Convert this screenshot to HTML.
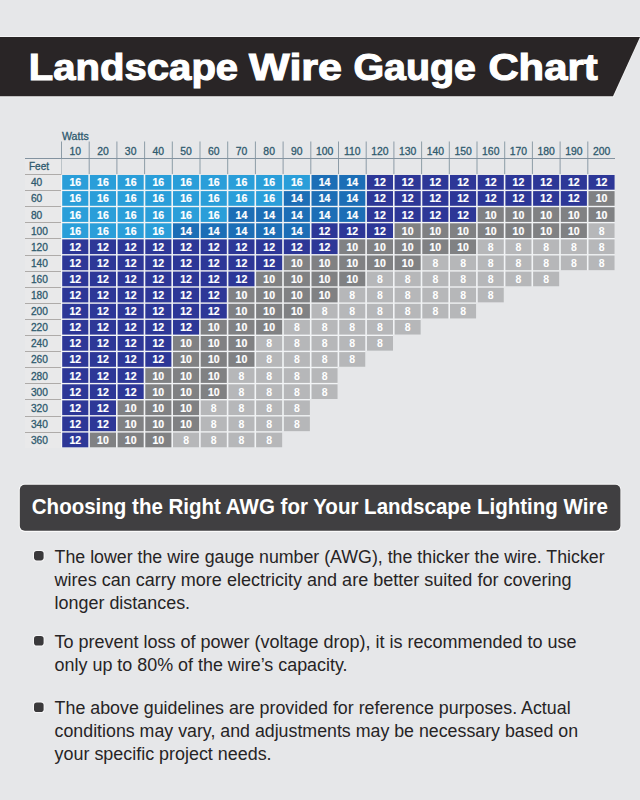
<!DOCTYPE html>
<html><head><meta charset="utf-8"><style>
html,body{margin:0;padding:0;}
body{width:640px;height:800px;overflow:hidden;position:relative;background:#e6e7e9;font-family:"Liberation Sans",sans-serif;}
</style></head><body>
<svg width="640" height="800" viewBox="0 0 640 800" style="position:absolute;left:0;top:0">
<polygon points="0,36 641,36 613.6,97.3 0,97.3" fill="#f4f4f5"/>
<polygon points="0,37 640,37 613,96.2 0,96.2" fill="#292526"/>
<text x="28.87" y="80.2" font-family="Liberation Sans" font-weight="bold" font-size="36.6" fill="#ffffff" stroke="#ffffff" stroke-width="1.1" textLength="209.27" lengthAdjust="spacingAndGlyphs">Landscape</text>
<text x="249.14" y="80.2" font-family="Liberation Sans" font-weight="bold" font-size="36.6" fill="#ffffff" stroke="#ffffff" stroke-width="1.1" textLength="92.94" lengthAdjust="spacingAndGlyphs">Wire</text>
<text x="353.49" y="80.2" font-family="Liberation Sans" font-weight="bold" font-size="36.6" fill="#ffffff" stroke="#ffffff" stroke-width="1.1" textLength="122.48" lengthAdjust="spacingAndGlyphs">Gauge</text>
<text x="488.43" y="80.2" font-family="Liberation Sans" font-weight="bold" font-size="36.6" fill="#ffffff" stroke="#ffffff" stroke-width="1.1" textLength="109.16" lengthAdjust="spacingAndGlyphs">Chart</text>
<text x="62" y="139.6" font-family="Liberation Sans" font-size="10.6" fill="#2f5a6e" stroke="#2f5a6e" stroke-width="0.3">Watts</text>
<rect x="61" y="141.5" width="1" height="32.5" fill="#8393a0" opacity="0.9"/>
<text x="75.25" y="154.6" text-anchor="middle" font-family="Liberation Sans" font-size="10.4" fill="#2f5a6e" stroke="#2f5a6e" stroke-width="0.3">10</text>
<rect x="88.7" y="141.5" width="1" height="32.5" fill="#8393a0" opacity="0.9"/>
<text x="102.95" y="154.6" text-anchor="middle" font-family="Liberation Sans" font-size="10.4" fill="#2f5a6e" stroke="#2f5a6e" stroke-width="0.3">20</text>
<rect x="116.4" y="141.5" width="1" height="32.5" fill="#8393a0" opacity="0.9"/>
<text x="130.65" y="154.6" text-anchor="middle" font-family="Liberation Sans" font-size="10.4" fill="#2f5a6e" stroke="#2f5a6e" stroke-width="0.3">30</text>
<rect x="144.1" y="141.5" width="1" height="32.5" fill="#8393a0" opacity="0.9"/>
<text x="158.35" y="154.6" text-anchor="middle" font-family="Liberation Sans" font-size="10.4" fill="#2f5a6e" stroke="#2f5a6e" stroke-width="0.3">40</text>
<rect x="171.8" y="141.5" width="1" height="32.5" fill="#8393a0" opacity="0.9"/>
<text x="186.05" y="154.6" text-anchor="middle" font-family="Liberation Sans" font-size="10.4" fill="#2f5a6e" stroke="#2f5a6e" stroke-width="0.3">50</text>
<rect x="199.5" y="141.5" width="1" height="32.5" fill="#8393a0" opacity="0.9"/>
<text x="213.75" y="154.6" text-anchor="middle" font-family="Liberation Sans" font-size="10.4" fill="#2f5a6e" stroke="#2f5a6e" stroke-width="0.3">60</text>
<rect x="227.2" y="141.5" width="1" height="32.5" fill="#8393a0" opacity="0.9"/>
<text x="241.45" y="154.6" text-anchor="middle" font-family="Liberation Sans" font-size="10.4" fill="#2f5a6e" stroke="#2f5a6e" stroke-width="0.3">70</text>
<rect x="254.9" y="141.5" width="1" height="32.5" fill="#8393a0" opacity="0.9"/>
<text x="269.15" y="154.6" text-anchor="middle" font-family="Liberation Sans" font-size="10.4" fill="#2f5a6e" stroke="#2f5a6e" stroke-width="0.3">80</text>
<rect x="282.6" y="141.5" width="1" height="32.5" fill="#8393a0" opacity="0.9"/>
<text x="296.85" y="154.6" text-anchor="middle" font-family="Liberation Sans" font-size="10.4" fill="#2f5a6e" stroke="#2f5a6e" stroke-width="0.3">90</text>
<rect x="310.3" y="141.5" width="1" height="32.5" fill="#8393a0" opacity="0.9"/>
<text x="324.55" y="154.6" text-anchor="middle" font-family="Liberation Sans" font-size="10.4" fill="#2f5a6e" stroke="#2f5a6e" stroke-width="0.3">100</text>
<rect x="338" y="141.5" width="1" height="32.5" fill="#8393a0" opacity="0.9"/>
<text x="352.25" y="154.6" text-anchor="middle" font-family="Liberation Sans" font-size="10.4" fill="#2f5a6e" stroke="#2f5a6e" stroke-width="0.3">110</text>
<rect x="365.7" y="141.5" width="1" height="32.5" fill="#8393a0" opacity="0.9"/>
<text x="379.95" y="154.6" text-anchor="middle" font-family="Liberation Sans" font-size="10.4" fill="#2f5a6e" stroke="#2f5a6e" stroke-width="0.3">120</text>
<rect x="393.4" y="141.5" width="1" height="32.5" fill="#8393a0" opacity="0.9"/>
<text x="407.65" y="154.6" text-anchor="middle" font-family="Liberation Sans" font-size="10.4" fill="#2f5a6e" stroke="#2f5a6e" stroke-width="0.3">130</text>
<rect x="421.1" y="141.5" width="1" height="32.5" fill="#8393a0" opacity="0.9"/>
<text x="435.35" y="154.6" text-anchor="middle" font-family="Liberation Sans" font-size="10.4" fill="#2f5a6e" stroke="#2f5a6e" stroke-width="0.3">140</text>
<rect x="448.8" y="141.5" width="1" height="32.5" fill="#8393a0" opacity="0.9"/>
<text x="463.05" y="154.6" text-anchor="middle" font-family="Liberation Sans" font-size="10.4" fill="#2f5a6e" stroke="#2f5a6e" stroke-width="0.3">150</text>
<rect x="476.5" y="141.5" width="1" height="32.5" fill="#8393a0" opacity="0.9"/>
<text x="490.75" y="154.6" text-anchor="middle" font-family="Liberation Sans" font-size="10.4" fill="#2f5a6e" stroke="#2f5a6e" stroke-width="0.3">160</text>
<rect x="504.2" y="141.5" width="1" height="32.5" fill="#8393a0" opacity="0.9"/>
<text x="518.45" y="154.6" text-anchor="middle" font-family="Liberation Sans" font-size="10.4" fill="#2f5a6e" stroke="#2f5a6e" stroke-width="0.3">170</text>
<rect x="531.9" y="141.5" width="1" height="32.5" fill="#8393a0" opacity="0.9"/>
<text x="546.15" y="154.6" text-anchor="middle" font-family="Liberation Sans" font-size="10.4" fill="#2f5a6e" stroke="#2f5a6e" stroke-width="0.3">180</text>
<rect x="559.6" y="141.5" width="1" height="32.5" fill="#8393a0" opacity="0.9"/>
<text x="573.85" y="154.6" text-anchor="middle" font-family="Liberation Sans" font-size="10.4" fill="#2f5a6e" stroke="#2f5a6e" stroke-width="0.3">190</text>
<rect x="587.3" y="141.5" width="1" height="32.5" fill="#8393a0" opacity="0.9"/>
<text x="601.55" y="154.6" text-anchor="middle" font-family="Liberation Sans" font-size="10.4" fill="#2f5a6e" stroke="#2f5a6e" stroke-width="0.3">200</text>
<rect x="25" y="158" width="590" height="1" fill="#8393a0"/>
<rect x="25" y="159" width="36.5" height="289" fill="#e9e9ea"/>
<rect x="61" y="175" width="1.2" height="272.5" fill="#f6f7f8"/>
<text x="29" y="169.9" font-family="Liberation Sans" font-size="10" fill="#2f5a6e" stroke="#2f5a6e" stroke-width="0.3">Feet</text>
<rect x="25" y="174" width="36.5" height="1" fill="#aeaba9"/>
<text x="30.9" y="186.3" font-family="Liberation Sans" font-size="10.2" fill="#2f5a6e" stroke="#2f5a6e" stroke-width="0.3">40</text>
<rect x="62.2" y="175" width="552.4" height="14.7" fill="#f2f4f6"/>
<rect x="62.2" y="189.7" width="552.4" height="1.4" fill="#f2f4f6"/>
<rect x="62.2" y="175" width="26.1" height="14.7" fill="#2a9ed9"/>
<text x="75.25" y="186.3" text-anchor="middle" font-family="Liberation Sans" font-weight="bold" font-size="10.5" fill="#ffffff" stroke="#ffffff" stroke-width="0.2">16</text>
<rect x="89.9" y="175" width="26.1" height="14.7" fill="#2a9ed9"/>
<text x="102.95" y="186.3" text-anchor="middle" font-family="Liberation Sans" font-weight="bold" font-size="10.5" fill="#ffffff" stroke="#ffffff" stroke-width="0.2">16</text>
<rect x="117.6" y="175" width="26.1" height="14.7" fill="#2a9ed9"/>
<text x="130.65" y="186.3" text-anchor="middle" font-family="Liberation Sans" font-weight="bold" font-size="10.5" fill="#ffffff" stroke="#ffffff" stroke-width="0.2">16</text>
<rect x="145.3" y="175" width="26.1" height="14.7" fill="#2a9ed9"/>
<text x="158.35" y="186.3" text-anchor="middle" font-family="Liberation Sans" font-weight="bold" font-size="10.5" fill="#ffffff" stroke="#ffffff" stroke-width="0.2">16</text>
<rect x="173" y="175" width="26.1" height="14.7" fill="#2a9ed9"/>
<text x="186.05" y="186.3" text-anchor="middle" font-family="Liberation Sans" font-weight="bold" font-size="10.5" fill="#ffffff" stroke="#ffffff" stroke-width="0.2">16</text>
<rect x="200.7" y="175" width="26.1" height="14.7" fill="#2a9ed9"/>
<text x="213.75" y="186.3" text-anchor="middle" font-family="Liberation Sans" font-weight="bold" font-size="10.5" fill="#ffffff" stroke="#ffffff" stroke-width="0.2">16</text>
<rect x="228.4" y="175" width="26.1" height="14.7" fill="#2a9ed9"/>
<text x="241.45" y="186.3" text-anchor="middle" font-family="Liberation Sans" font-weight="bold" font-size="10.5" fill="#ffffff" stroke="#ffffff" stroke-width="0.2">16</text>
<rect x="256.1" y="175" width="26.1" height="14.7" fill="#2a9ed9"/>
<text x="269.15" y="186.3" text-anchor="middle" font-family="Liberation Sans" font-weight="bold" font-size="10.5" fill="#ffffff" stroke="#ffffff" stroke-width="0.2">16</text>
<rect x="283.8" y="175" width="26.1" height="14.7" fill="#2a9ed9"/>
<text x="296.85" y="186.3" text-anchor="middle" font-family="Liberation Sans" font-weight="bold" font-size="10.5" fill="#ffffff" stroke="#ffffff" stroke-width="0.2">16</text>
<rect x="311.5" y="175" width="26.1" height="14.7" fill="#1c6eb6"/>
<text x="324.55" y="186.3" text-anchor="middle" font-family="Liberation Sans" font-weight="bold" font-size="10.5" fill="#ffffff" stroke="#ffffff" stroke-width="0.2">14</text>
<rect x="339.2" y="175" width="26.1" height="14.7" fill="#1c6eb6"/>
<text x="352.25" y="186.3" text-anchor="middle" font-family="Liberation Sans" font-weight="bold" font-size="10.5" fill="#ffffff" stroke="#ffffff" stroke-width="0.2">14</text>
<rect x="366.9" y="175" width="26.1" height="14.7" fill="#2d3797"/>
<text x="379.95" y="186.3" text-anchor="middle" font-family="Liberation Sans" font-weight="bold" font-size="10.5" fill="#ffffff" stroke="#ffffff" stroke-width="0.2">12</text>
<rect x="394.6" y="175" width="26.1" height="14.7" fill="#2d3797"/>
<text x="407.65" y="186.3" text-anchor="middle" font-family="Liberation Sans" font-weight="bold" font-size="10.5" fill="#ffffff" stroke="#ffffff" stroke-width="0.2">12</text>
<rect x="422.3" y="175" width="26.1" height="14.7" fill="#2d3797"/>
<text x="435.35" y="186.3" text-anchor="middle" font-family="Liberation Sans" font-weight="bold" font-size="10.5" fill="#ffffff" stroke="#ffffff" stroke-width="0.2">12</text>
<rect x="450" y="175" width="26.1" height="14.7" fill="#2d3797"/>
<text x="463.05" y="186.3" text-anchor="middle" font-family="Liberation Sans" font-weight="bold" font-size="10.5" fill="#ffffff" stroke="#ffffff" stroke-width="0.2">12</text>
<rect x="477.7" y="175" width="26.1" height="14.7" fill="#2d3797"/>
<text x="490.75" y="186.3" text-anchor="middle" font-family="Liberation Sans" font-weight="bold" font-size="10.5" fill="#ffffff" stroke="#ffffff" stroke-width="0.2">12</text>
<rect x="505.4" y="175" width="26.1" height="14.7" fill="#2d3797"/>
<text x="518.45" y="186.3" text-anchor="middle" font-family="Liberation Sans" font-weight="bold" font-size="10.5" fill="#ffffff" stroke="#ffffff" stroke-width="0.2">12</text>
<rect x="533.1" y="175" width="26.1" height="14.7" fill="#2d3797"/>
<text x="546.15" y="186.3" text-anchor="middle" font-family="Liberation Sans" font-weight="bold" font-size="10.5" fill="#ffffff" stroke="#ffffff" stroke-width="0.2">12</text>
<rect x="560.8" y="175" width="26.1" height="14.7" fill="#2d3797"/>
<text x="573.85" y="186.3" text-anchor="middle" font-family="Liberation Sans" font-weight="bold" font-size="10.5" fill="#ffffff" stroke="#ffffff" stroke-width="0.2">12</text>
<rect x="588.5" y="175" width="26.1" height="14.7" fill="#2d3797"/>
<text x="601.55" y="186.3" text-anchor="middle" font-family="Liberation Sans" font-weight="bold" font-size="10.5" fill="#ffffff" stroke="#ffffff" stroke-width="0.2">12</text>
<rect x="25" y="190" width="36" height="1" fill="#aeaba9"/>
<text x="30.9" y="202.4" font-family="Liberation Sans" font-size="10.2" fill="#2f5a6e" stroke="#2f5a6e" stroke-width="0.3">60</text>
<rect x="62.2" y="191.1" width="552.4" height="14.7" fill="#f2f4f6"/>
<rect x="62.2" y="205.8" width="552.4" height="1.4" fill="#f2f4f6"/>
<rect x="62.2" y="191.1" width="26.1" height="14.7" fill="#2a9ed9"/>
<text x="75.25" y="202.4" text-anchor="middle" font-family="Liberation Sans" font-weight="bold" font-size="10.5" fill="#ffffff" stroke="#ffffff" stroke-width="0.2">16</text>
<rect x="89.9" y="191.1" width="26.1" height="14.7" fill="#2a9ed9"/>
<text x="102.95" y="202.4" text-anchor="middle" font-family="Liberation Sans" font-weight="bold" font-size="10.5" fill="#ffffff" stroke="#ffffff" stroke-width="0.2">16</text>
<rect x="117.6" y="191.1" width="26.1" height="14.7" fill="#2a9ed9"/>
<text x="130.65" y="202.4" text-anchor="middle" font-family="Liberation Sans" font-weight="bold" font-size="10.5" fill="#ffffff" stroke="#ffffff" stroke-width="0.2">16</text>
<rect x="145.3" y="191.1" width="26.1" height="14.7" fill="#2a9ed9"/>
<text x="158.35" y="202.4" text-anchor="middle" font-family="Liberation Sans" font-weight="bold" font-size="10.5" fill="#ffffff" stroke="#ffffff" stroke-width="0.2">16</text>
<rect x="173" y="191.1" width="26.1" height="14.7" fill="#2a9ed9"/>
<text x="186.05" y="202.4" text-anchor="middle" font-family="Liberation Sans" font-weight="bold" font-size="10.5" fill="#ffffff" stroke="#ffffff" stroke-width="0.2">16</text>
<rect x="200.7" y="191.1" width="26.1" height="14.7" fill="#2a9ed9"/>
<text x="213.75" y="202.4" text-anchor="middle" font-family="Liberation Sans" font-weight="bold" font-size="10.5" fill="#ffffff" stroke="#ffffff" stroke-width="0.2">16</text>
<rect x="228.4" y="191.1" width="26.1" height="14.7" fill="#2a9ed9"/>
<text x="241.45" y="202.4" text-anchor="middle" font-family="Liberation Sans" font-weight="bold" font-size="10.5" fill="#ffffff" stroke="#ffffff" stroke-width="0.2">16</text>
<rect x="256.1" y="191.1" width="26.1" height="14.7" fill="#2a9ed9"/>
<text x="269.15" y="202.4" text-anchor="middle" font-family="Liberation Sans" font-weight="bold" font-size="10.5" fill="#ffffff" stroke="#ffffff" stroke-width="0.2">16</text>
<rect x="283.8" y="191.1" width="26.1" height="14.7" fill="#1c6eb6"/>
<text x="296.85" y="202.4" text-anchor="middle" font-family="Liberation Sans" font-weight="bold" font-size="10.5" fill="#ffffff" stroke="#ffffff" stroke-width="0.2">14</text>
<rect x="311.5" y="191.1" width="26.1" height="14.7" fill="#1c6eb6"/>
<text x="324.55" y="202.4" text-anchor="middle" font-family="Liberation Sans" font-weight="bold" font-size="10.5" fill="#ffffff" stroke="#ffffff" stroke-width="0.2">14</text>
<rect x="339.2" y="191.1" width="26.1" height="14.7" fill="#1c6eb6"/>
<text x="352.25" y="202.4" text-anchor="middle" font-family="Liberation Sans" font-weight="bold" font-size="10.5" fill="#ffffff" stroke="#ffffff" stroke-width="0.2">14</text>
<rect x="366.9" y="191.1" width="26.1" height="14.7" fill="#2d3797"/>
<text x="379.95" y="202.4" text-anchor="middle" font-family="Liberation Sans" font-weight="bold" font-size="10.5" fill="#ffffff" stroke="#ffffff" stroke-width="0.2">12</text>
<rect x="394.6" y="191.1" width="26.1" height="14.7" fill="#2d3797"/>
<text x="407.65" y="202.4" text-anchor="middle" font-family="Liberation Sans" font-weight="bold" font-size="10.5" fill="#ffffff" stroke="#ffffff" stroke-width="0.2">12</text>
<rect x="422.3" y="191.1" width="26.1" height="14.7" fill="#2d3797"/>
<text x="435.35" y="202.4" text-anchor="middle" font-family="Liberation Sans" font-weight="bold" font-size="10.5" fill="#ffffff" stroke="#ffffff" stroke-width="0.2">12</text>
<rect x="450" y="191.1" width="26.1" height="14.7" fill="#2d3797"/>
<text x="463.05" y="202.4" text-anchor="middle" font-family="Liberation Sans" font-weight="bold" font-size="10.5" fill="#ffffff" stroke="#ffffff" stroke-width="0.2">12</text>
<rect x="477.7" y="191.1" width="26.1" height="14.7" fill="#2d3797"/>
<text x="490.75" y="202.4" text-anchor="middle" font-family="Liberation Sans" font-weight="bold" font-size="10.5" fill="#ffffff" stroke="#ffffff" stroke-width="0.2">12</text>
<rect x="505.4" y="191.1" width="26.1" height="14.7" fill="#2d3797"/>
<text x="518.45" y="202.4" text-anchor="middle" font-family="Liberation Sans" font-weight="bold" font-size="10.5" fill="#ffffff" stroke="#ffffff" stroke-width="0.2">12</text>
<rect x="533.1" y="191.1" width="26.1" height="14.7" fill="#2d3797"/>
<text x="546.15" y="202.4" text-anchor="middle" font-family="Liberation Sans" font-weight="bold" font-size="10.5" fill="#ffffff" stroke="#ffffff" stroke-width="0.2">12</text>
<rect x="560.8" y="191.1" width="26.1" height="14.7" fill="#2d3797"/>
<text x="573.85" y="202.4" text-anchor="middle" font-family="Liberation Sans" font-weight="bold" font-size="10.5" fill="#ffffff" stroke="#ffffff" stroke-width="0.2">12</text>
<rect x="588.5" y="191.1" width="26.1" height="14.7" fill="#808183"/>
<text x="601.55" y="202.4" text-anchor="middle" font-family="Liberation Sans" font-weight="bold" font-size="10.5" fill="#ffffff" stroke="#ffffff" stroke-width="0.2">10</text>
<rect x="25" y="206" width="36" height="1" fill="#aeaba9"/>
<text x="30.9" y="218.5" font-family="Liberation Sans" font-size="10.2" fill="#2f5a6e" stroke="#2f5a6e" stroke-width="0.3">80</text>
<rect x="62.2" y="207.2" width="552.4" height="14.7" fill="#f2f4f6"/>
<rect x="62.2" y="221.9" width="552.4" height="1.4" fill="#f2f4f6"/>
<rect x="62.2" y="207.2" width="26.1" height="14.7" fill="#2a9ed9"/>
<text x="75.25" y="218.5" text-anchor="middle" font-family="Liberation Sans" font-weight="bold" font-size="10.5" fill="#ffffff" stroke="#ffffff" stroke-width="0.2">16</text>
<rect x="89.9" y="207.2" width="26.1" height="14.7" fill="#2a9ed9"/>
<text x="102.95" y="218.5" text-anchor="middle" font-family="Liberation Sans" font-weight="bold" font-size="10.5" fill="#ffffff" stroke="#ffffff" stroke-width="0.2">16</text>
<rect x="117.6" y="207.2" width="26.1" height="14.7" fill="#2a9ed9"/>
<text x="130.65" y="218.5" text-anchor="middle" font-family="Liberation Sans" font-weight="bold" font-size="10.5" fill="#ffffff" stroke="#ffffff" stroke-width="0.2">16</text>
<rect x="145.3" y="207.2" width="26.1" height="14.7" fill="#2a9ed9"/>
<text x="158.35" y="218.5" text-anchor="middle" font-family="Liberation Sans" font-weight="bold" font-size="10.5" fill="#ffffff" stroke="#ffffff" stroke-width="0.2">16</text>
<rect x="173" y="207.2" width="26.1" height="14.7" fill="#2a9ed9"/>
<text x="186.05" y="218.5" text-anchor="middle" font-family="Liberation Sans" font-weight="bold" font-size="10.5" fill="#ffffff" stroke="#ffffff" stroke-width="0.2">16</text>
<rect x="200.7" y="207.2" width="26.1" height="14.7" fill="#2a9ed9"/>
<text x="213.75" y="218.5" text-anchor="middle" font-family="Liberation Sans" font-weight="bold" font-size="10.5" fill="#ffffff" stroke="#ffffff" stroke-width="0.2">16</text>
<rect x="228.4" y="207.2" width="26.1" height="14.7" fill="#1c6eb6"/>
<text x="241.45" y="218.5" text-anchor="middle" font-family="Liberation Sans" font-weight="bold" font-size="10.5" fill="#ffffff" stroke="#ffffff" stroke-width="0.2">14</text>
<rect x="256.1" y="207.2" width="26.1" height="14.7" fill="#1c6eb6"/>
<text x="269.15" y="218.5" text-anchor="middle" font-family="Liberation Sans" font-weight="bold" font-size="10.5" fill="#ffffff" stroke="#ffffff" stroke-width="0.2">14</text>
<rect x="283.8" y="207.2" width="26.1" height="14.7" fill="#1c6eb6"/>
<text x="296.85" y="218.5" text-anchor="middle" font-family="Liberation Sans" font-weight="bold" font-size="10.5" fill="#ffffff" stroke="#ffffff" stroke-width="0.2">14</text>
<rect x="311.5" y="207.2" width="26.1" height="14.7" fill="#1c6eb6"/>
<text x="324.55" y="218.5" text-anchor="middle" font-family="Liberation Sans" font-weight="bold" font-size="10.5" fill="#ffffff" stroke="#ffffff" stroke-width="0.2">14</text>
<rect x="339.2" y="207.2" width="26.1" height="14.7" fill="#1c6eb6"/>
<text x="352.25" y="218.5" text-anchor="middle" font-family="Liberation Sans" font-weight="bold" font-size="10.5" fill="#ffffff" stroke="#ffffff" stroke-width="0.2">14</text>
<rect x="366.9" y="207.2" width="26.1" height="14.7" fill="#2d3797"/>
<text x="379.95" y="218.5" text-anchor="middle" font-family="Liberation Sans" font-weight="bold" font-size="10.5" fill="#ffffff" stroke="#ffffff" stroke-width="0.2">12</text>
<rect x="394.6" y="207.2" width="26.1" height="14.7" fill="#2d3797"/>
<text x="407.65" y="218.5" text-anchor="middle" font-family="Liberation Sans" font-weight="bold" font-size="10.5" fill="#ffffff" stroke="#ffffff" stroke-width="0.2">12</text>
<rect x="422.3" y="207.2" width="26.1" height="14.7" fill="#2d3797"/>
<text x="435.35" y="218.5" text-anchor="middle" font-family="Liberation Sans" font-weight="bold" font-size="10.5" fill="#ffffff" stroke="#ffffff" stroke-width="0.2">12</text>
<rect x="450" y="207.2" width="26.1" height="14.7" fill="#2d3797"/>
<text x="463.05" y="218.5" text-anchor="middle" font-family="Liberation Sans" font-weight="bold" font-size="10.5" fill="#ffffff" stroke="#ffffff" stroke-width="0.2">12</text>
<rect x="477.7" y="207.2" width="26.1" height="14.7" fill="#808183"/>
<text x="490.75" y="218.5" text-anchor="middle" font-family="Liberation Sans" font-weight="bold" font-size="10.5" fill="#ffffff" stroke="#ffffff" stroke-width="0.2">10</text>
<rect x="505.4" y="207.2" width="26.1" height="14.7" fill="#808183"/>
<text x="518.45" y="218.5" text-anchor="middle" font-family="Liberation Sans" font-weight="bold" font-size="10.5" fill="#ffffff" stroke="#ffffff" stroke-width="0.2">10</text>
<rect x="533.1" y="207.2" width="26.1" height="14.7" fill="#808183"/>
<text x="546.15" y="218.5" text-anchor="middle" font-family="Liberation Sans" font-weight="bold" font-size="10.5" fill="#ffffff" stroke="#ffffff" stroke-width="0.2">10</text>
<rect x="560.8" y="207.2" width="26.1" height="14.7" fill="#808183"/>
<text x="573.85" y="218.5" text-anchor="middle" font-family="Liberation Sans" font-weight="bold" font-size="10.5" fill="#ffffff" stroke="#ffffff" stroke-width="0.2">10</text>
<rect x="588.5" y="207.2" width="26.1" height="14.7" fill="#808183"/>
<text x="601.55" y="218.5" text-anchor="middle" font-family="Liberation Sans" font-weight="bold" font-size="10.5" fill="#ffffff" stroke="#ffffff" stroke-width="0.2">10</text>
<rect x="25" y="222" width="36" height="1" fill="#aeaba9"/>
<text x="30.9" y="234.6" font-family="Liberation Sans" font-size="10.2" fill="#2f5a6e" stroke="#2f5a6e" stroke-width="0.3">100</text>
<rect x="62.2" y="223.3" width="552.4" height="14.7" fill="#f2f4f6"/>
<rect x="62.2" y="238" width="552.4" height="1.4" fill="#f2f4f6"/>
<rect x="62.2" y="223.3" width="26.1" height="14.7" fill="#2a9ed9"/>
<text x="75.25" y="234.6" text-anchor="middle" font-family="Liberation Sans" font-weight="bold" font-size="10.5" fill="#ffffff" stroke="#ffffff" stroke-width="0.2">16</text>
<rect x="89.9" y="223.3" width="26.1" height="14.7" fill="#2a9ed9"/>
<text x="102.95" y="234.6" text-anchor="middle" font-family="Liberation Sans" font-weight="bold" font-size="10.5" fill="#ffffff" stroke="#ffffff" stroke-width="0.2">16</text>
<rect x="117.6" y="223.3" width="26.1" height="14.7" fill="#2a9ed9"/>
<text x="130.65" y="234.6" text-anchor="middle" font-family="Liberation Sans" font-weight="bold" font-size="10.5" fill="#ffffff" stroke="#ffffff" stroke-width="0.2">16</text>
<rect x="145.3" y="223.3" width="26.1" height="14.7" fill="#2a9ed9"/>
<text x="158.35" y="234.6" text-anchor="middle" font-family="Liberation Sans" font-weight="bold" font-size="10.5" fill="#ffffff" stroke="#ffffff" stroke-width="0.2">16</text>
<rect x="173" y="223.3" width="26.1" height="14.7" fill="#1c6eb6"/>
<text x="186.05" y="234.6" text-anchor="middle" font-family="Liberation Sans" font-weight="bold" font-size="10.5" fill="#ffffff" stroke="#ffffff" stroke-width="0.2">14</text>
<rect x="200.7" y="223.3" width="26.1" height="14.7" fill="#1c6eb6"/>
<text x="213.75" y="234.6" text-anchor="middle" font-family="Liberation Sans" font-weight="bold" font-size="10.5" fill="#ffffff" stroke="#ffffff" stroke-width="0.2">14</text>
<rect x="228.4" y="223.3" width="26.1" height="14.7" fill="#1c6eb6"/>
<text x="241.45" y="234.6" text-anchor="middle" font-family="Liberation Sans" font-weight="bold" font-size="10.5" fill="#ffffff" stroke="#ffffff" stroke-width="0.2">14</text>
<rect x="256.1" y="223.3" width="26.1" height="14.7" fill="#1c6eb6"/>
<text x="269.15" y="234.6" text-anchor="middle" font-family="Liberation Sans" font-weight="bold" font-size="10.5" fill="#ffffff" stroke="#ffffff" stroke-width="0.2">14</text>
<rect x="283.8" y="223.3" width="26.1" height="14.7" fill="#1c6eb6"/>
<text x="296.85" y="234.6" text-anchor="middle" font-family="Liberation Sans" font-weight="bold" font-size="10.5" fill="#ffffff" stroke="#ffffff" stroke-width="0.2">14</text>
<rect x="311.5" y="223.3" width="26.1" height="14.7" fill="#2d3797"/>
<text x="324.55" y="234.6" text-anchor="middle" font-family="Liberation Sans" font-weight="bold" font-size="10.5" fill="#ffffff" stroke="#ffffff" stroke-width="0.2">12</text>
<rect x="339.2" y="223.3" width="26.1" height="14.7" fill="#2d3797"/>
<text x="352.25" y="234.6" text-anchor="middle" font-family="Liberation Sans" font-weight="bold" font-size="10.5" fill="#ffffff" stroke="#ffffff" stroke-width="0.2">12</text>
<rect x="366.9" y="223.3" width="26.1" height="14.7" fill="#2d3797"/>
<text x="379.95" y="234.6" text-anchor="middle" font-family="Liberation Sans" font-weight="bold" font-size="10.5" fill="#ffffff" stroke="#ffffff" stroke-width="0.2">12</text>
<rect x="394.6" y="223.3" width="26.1" height="14.7" fill="#808183"/>
<text x="407.65" y="234.6" text-anchor="middle" font-family="Liberation Sans" font-weight="bold" font-size="10.5" fill="#ffffff" stroke="#ffffff" stroke-width="0.2">10</text>
<rect x="422.3" y="223.3" width="26.1" height="14.7" fill="#808183"/>
<text x="435.35" y="234.6" text-anchor="middle" font-family="Liberation Sans" font-weight="bold" font-size="10.5" fill="#ffffff" stroke="#ffffff" stroke-width="0.2">10</text>
<rect x="450" y="223.3" width="26.1" height="14.7" fill="#808183"/>
<text x="463.05" y="234.6" text-anchor="middle" font-family="Liberation Sans" font-weight="bold" font-size="10.5" fill="#ffffff" stroke="#ffffff" stroke-width="0.2">10</text>
<rect x="477.7" y="223.3" width="26.1" height="14.7" fill="#808183"/>
<text x="490.75" y="234.6" text-anchor="middle" font-family="Liberation Sans" font-weight="bold" font-size="10.5" fill="#ffffff" stroke="#ffffff" stroke-width="0.2">10</text>
<rect x="505.4" y="223.3" width="26.1" height="14.7" fill="#808183"/>
<text x="518.45" y="234.6" text-anchor="middle" font-family="Liberation Sans" font-weight="bold" font-size="10.5" fill="#ffffff" stroke="#ffffff" stroke-width="0.2">10</text>
<rect x="533.1" y="223.3" width="26.1" height="14.7" fill="#808183"/>
<text x="546.15" y="234.6" text-anchor="middle" font-family="Liberation Sans" font-weight="bold" font-size="10.5" fill="#ffffff" stroke="#ffffff" stroke-width="0.2">10</text>
<rect x="560.8" y="223.3" width="26.1" height="14.7" fill="#808183"/>
<text x="573.85" y="234.6" text-anchor="middle" font-family="Liberation Sans" font-weight="bold" font-size="10.5" fill="#ffffff" stroke="#ffffff" stroke-width="0.2">10</text>
<rect x="588.5" y="223.3" width="26.1" height="14.7" fill="#b6b7b9"/>
<text x="601.55" y="234.6" text-anchor="middle" font-family="Liberation Sans" font-weight="bold" font-size="10.5" fill="#ffffff">8</text>
<rect x="25" y="238" width="36" height="1" fill="#aeaba9"/>
<text x="30.9" y="250.7" font-family="Liberation Sans" font-size="10.2" fill="#2f5a6e" stroke="#2f5a6e" stroke-width="0.3">120</text>
<rect x="62.2" y="239.4" width="552.4" height="14.7" fill="#f2f4f6"/>
<rect x="62.2" y="254.1" width="552.4" height="1.4" fill="#f2f4f6"/>
<rect x="62.2" y="239.4" width="26.1" height="14.7" fill="#2d3797"/>
<text x="75.25" y="250.7" text-anchor="middle" font-family="Liberation Sans" font-weight="bold" font-size="10.5" fill="#ffffff" stroke="#ffffff" stroke-width="0.2">12</text>
<rect x="89.9" y="239.4" width="26.1" height="14.7" fill="#2d3797"/>
<text x="102.95" y="250.7" text-anchor="middle" font-family="Liberation Sans" font-weight="bold" font-size="10.5" fill="#ffffff" stroke="#ffffff" stroke-width="0.2">12</text>
<rect x="117.6" y="239.4" width="26.1" height="14.7" fill="#2d3797"/>
<text x="130.65" y="250.7" text-anchor="middle" font-family="Liberation Sans" font-weight="bold" font-size="10.5" fill="#ffffff" stroke="#ffffff" stroke-width="0.2">12</text>
<rect x="145.3" y="239.4" width="26.1" height="14.7" fill="#2d3797"/>
<text x="158.35" y="250.7" text-anchor="middle" font-family="Liberation Sans" font-weight="bold" font-size="10.5" fill="#ffffff" stroke="#ffffff" stroke-width="0.2">12</text>
<rect x="173" y="239.4" width="26.1" height="14.7" fill="#2d3797"/>
<text x="186.05" y="250.7" text-anchor="middle" font-family="Liberation Sans" font-weight="bold" font-size="10.5" fill="#ffffff" stroke="#ffffff" stroke-width="0.2">12</text>
<rect x="200.7" y="239.4" width="26.1" height="14.7" fill="#2d3797"/>
<text x="213.75" y="250.7" text-anchor="middle" font-family="Liberation Sans" font-weight="bold" font-size="10.5" fill="#ffffff" stroke="#ffffff" stroke-width="0.2">12</text>
<rect x="228.4" y="239.4" width="26.1" height="14.7" fill="#2d3797"/>
<text x="241.45" y="250.7" text-anchor="middle" font-family="Liberation Sans" font-weight="bold" font-size="10.5" fill="#ffffff" stroke="#ffffff" stroke-width="0.2">12</text>
<rect x="256.1" y="239.4" width="26.1" height="14.7" fill="#2d3797"/>
<text x="269.15" y="250.7" text-anchor="middle" font-family="Liberation Sans" font-weight="bold" font-size="10.5" fill="#ffffff" stroke="#ffffff" stroke-width="0.2">12</text>
<rect x="283.8" y="239.4" width="26.1" height="14.7" fill="#2d3797"/>
<text x="296.85" y="250.7" text-anchor="middle" font-family="Liberation Sans" font-weight="bold" font-size="10.5" fill="#ffffff" stroke="#ffffff" stroke-width="0.2">12</text>
<rect x="311.5" y="239.4" width="26.1" height="14.7" fill="#2d3797"/>
<text x="324.55" y="250.7" text-anchor="middle" font-family="Liberation Sans" font-weight="bold" font-size="10.5" fill="#ffffff" stroke="#ffffff" stroke-width="0.2">12</text>
<rect x="339.2" y="239.4" width="26.1" height="14.7" fill="#808183"/>
<text x="352.25" y="250.7" text-anchor="middle" font-family="Liberation Sans" font-weight="bold" font-size="10.5" fill="#ffffff" stroke="#ffffff" stroke-width="0.2">10</text>
<rect x="366.9" y="239.4" width="26.1" height="14.7" fill="#808183"/>
<text x="379.95" y="250.7" text-anchor="middle" font-family="Liberation Sans" font-weight="bold" font-size="10.5" fill="#ffffff" stroke="#ffffff" stroke-width="0.2">10</text>
<rect x="394.6" y="239.4" width="26.1" height="14.7" fill="#808183"/>
<text x="407.65" y="250.7" text-anchor="middle" font-family="Liberation Sans" font-weight="bold" font-size="10.5" fill="#ffffff" stroke="#ffffff" stroke-width="0.2">10</text>
<rect x="422.3" y="239.4" width="26.1" height="14.7" fill="#808183"/>
<text x="435.35" y="250.7" text-anchor="middle" font-family="Liberation Sans" font-weight="bold" font-size="10.5" fill="#ffffff" stroke="#ffffff" stroke-width="0.2">10</text>
<rect x="450" y="239.4" width="26.1" height="14.7" fill="#808183"/>
<text x="463.05" y="250.7" text-anchor="middle" font-family="Liberation Sans" font-weight="bold" font-size="10.5" fill="#ffffff" stroke="#ffffff" stroke-width="0.2">10</text>
<rect x="477.7" y="239.4" width="26.1" height="14.7" fill="#b6b7b9"/>
<text x="490.75" y="250.7" text-anchor="middle" font-family="Liberation Sans" font-weight="bold" font-size="10.5" fill="#ffffff">8</text>
<rect x="505.4" y="239.4" width="26.1" height="14.7" fill="#b6b7b9"/>
<text x="518.45" y="250.7" text-anchor="middle" font-family="Liberation Sans" font-weight="bold" font-size="10.5" fill="#ffffff">8</text>
<rect x="533.1" y="239.4" width="26.1" height="14.7" fill="#b6b7b9"/>
<text x="546.15" y="250.7" text-anchor="middle" font-family="Liberation Sans" font-weight="bold" font-size="10.5" fill="#ffffff">8</text>
<rect x="560.8" y="239.4" width="26.1" height="14.7" fill="#b6b7b9"/>
<text x="573.85" y="250.7" text-anchor="middle" font-family="Liberation Sans" font-weight="bold" font-size="10.5" fill="#ffffff">8</text>
<rect x="588.5" y="239.4" width="26.1" height="14.7" fill="#b6b7b9"/>
<text x="601.55" y="250.7" text-anchor="middle" font-family="Liberation Sans" font-weight="bold" font-size="10.5" fill="#ffffff">8</text>
<rect x="25" y="255" width="36" height="1" fill="#aeaba9"/>
<text x="30.9" y="266.8" font-family="Liberation Sans" font-size="10.2" fill="#2f5a6e" stroke="#2f5a6e" stroke-width="0.3">140</text>
<rect x="62.2" y="255.5" width="552.4" height="14.7" fill="#f2f4f6"/>
<rect x="62.2" y="270.2" width="497" height="1.4" fill="#f2f4f6"/>
<rect x="62.2" y="255.5" width="26.1" height="14.7" fill="#2d3797"/>
<text x="75.25" y="266.8" text-anchor="middle" font-family="Liberation Sans" font-weight="bold" font-size="10.5" fill="#ffffff" stroke="#ffffff" stroke-width="0.2">12</text>
<rect x="89.9" y="255.5" width="26.1" height="14.7" fill="#2d3797"/>
<text x="102.95" y="266.8" text-anchor="middle" font-family="Liberation Sans" font-weight="bold" font-size="10.5" fill="#ffffff" stroke="#ffffff" stroke-width="0.2">12</text>
<rect x="117.6" y="255.5" width="26.1" height="14.7" fill="#2d3797"/>
<text x="130.65" y="266.8" text-anchor="middle" font-family="Liberation Sans" font-weight="bold" font-size="10.5" fill="#ffffff" stroke="#ffffff" stroke-width="0.2">12</text>
<rect x="145.3" y="255.5" width="26.1" height="14.7" fill="#2d3797"/>
<text x="158.35" y="266.8" text-anchor="middle" font-family="Liberation Sans" font-weight="bold" font-size="10.5" fill="#ffffff" stroke="#ffffff" stroke-width="0.2">12</text>
<rect x="173" y="255.5" width="26.1" height="14.7" fill="#2d3797"/>
<text x="186.05" y="266.8" text-anchor="middle" font-family="Liberation Sans" font-weight="bold" font-size="10.5" fill="#ffffff" stroke="#ffffff" stroke-width="0.2">12</text>
<rect x="200.7" y="255.5" width="26.1" height="14.7" fill="#2d3797"/>
<text x="213.75" y="266.8" text-anchor="middle" font-family="Liberation Sans" font-weight="bold" font-size="10.5" fill="#ffffff" stroke="#ffffff" stroke-width="0.2">12</text>
<rect x="228.4" y="255.5" width="26.1" height="14.7" fill="#2d3797"/>
<text x="241.45" y="266.8" text-anchor="middle" font-family="Liberation Sans" font-weight="bold" font-size="10.5" fill="#ffffff" stroke="#ffffff" stroke-width="0.2">12</text>
<rect x="256.1" y="255.5" width="26.1" height="14.7" fill="#2d3797"/>
<text x="269.15" y="266.8" text-anchor="middle" font-family="Liberation Sans" font-weight="bold" font-size="10.5" fill="#ffffff" stroke="#ffffff" stroke-width="0.2">12</text>
<rect x="283.8" y="255.5" width="26.1" height="14.7" fill="#808183"/>
<text x="296.85" y="266.8" text-anchor="middle" font-family="Liberation Sans" font-weight="bold" font-size="10.5" fill="#ffffff" stroke="#ffffff" stroke-width="0.2">10</text>
<rect x="311.5" y="255.5" width="26.1" height="14.7" fill="#808183"/>
<text x="324.55" y="266.8" text-anchor="middle" font-family="Liberation Sans" font-weight="bold" font-size="10.5" fill="#ffffff" stroke="#ffffff" stroke-width="0.2">10</text>
<rect x="339.2" y="255.5" width="26.1" height="14.7" fill="#808183"/>
<text x="352.25" y="266.8" text-anchor="middle" font-family="Liberation Sans" font-weight="bold" font-size="10.5" fill="#ffffff" stroke="#ffffff" stroke-width="0.2">10</text>
<rect x="366.9" y="255.5" width="26.1" height="14.7" fill="#808183"/>
<text x="379.95" y="266.8" text-anchor="middle" font-family="Liberation Sans" font-weight="bold" font-size="10.5" fill="#ffffff" stroke="#ffffff" stroke-width="0.2">10</text>
<rect x="394.6" y="255.5" width="26.1" height="14.7" fill="#808183"/>
<text x="407.65" y="266.8" text-anchor="middle" font-family="Liberation Sans" font-weight="bold" font-size="10.5" fill="#ffffff" stroke="#ffffff" stroke-width="0.2">10</text>
<rect x="422.3" y="255.5" width="26.1" height="14.7" fill="#b6b7b9"/>
<text x="435.35" y="266.8" text-anchor="middle" font-family="Liberation Sans" font-weight="bold" font-size="10.5" fill="#ffffff">8</text>
<rect x="450" y="255.5" width="26.1" height="14.7" fill="#b6b7b9"/>
<text x="463.05" y="266.8" text-anchor="middle" font-family="Liberation Sans" font-weight="bold" font-size="10.5" fill="#ffffff">8</text>
<rect x="477.7" y="255.5" width="26.1" height="14.7" fill="#b6b7b9"/>
<text x="490.75" y="266.8" text-anchor="middle" font-family="Liberation Sans" font-weight="bold" font-size="10.5" fill="#ffffff">8</text>
<rect x="505.4" y="255.5" width="26.1" height="14.7" fill="#b6b7b9"/>
<text x="518.45" y="266.8" text-anchor="middle" font-family="Liberation Sans" font-weight="bold" font-size="10.5" fill="#ffffff">8</text>
<rect x="533.1" y="255.5" width="26.1" height="14.7" fill="#b6b7b9"/>
<text x="546.15" y="266.8" text-anchor="middle" font-family="Liberation Sans" font-weight="bold" font-size="10.5" fill="#ffffff">8</text>
<rect x="560.8" y="255.5" width="26.1" height="14.7" fill="#b6b7b9"/>
<text x="573.85" y="266.8" text-anchor="middle" font-family="Liberation Sans" font-weight="bold" font-size="10.5" fill="#ffffff">8</text>
<rect x="588.5" y="255.5" width="26.1" height="14.7" fill="#b6b7b9"/>
<text x="601.55" y="266.8" text-anchor="middle" font-family="Liberation Sans" font-weight="bold" font-size="10.5" fill="#ffffff">8</text>
<rect x="25" y="271" width="36" height="1" fill="#aeaba9"/>
<text x="30.9" y="282.9" font-family="Liberation Sans" font-size="10.2" fill="#2f5a6e" stroke="#2f5a6e" stroke-width="0.3">160</text>
<rect x="62.2" y="271.6" width="497" height="14.7" fill="#f2f4f6"/>
<rect x="62.2" y="286.3" width="441.6" height="1.4" fill="#f2f4f6"/>
<rect x="62.2" y="271.6" width="26.1" height="14.7" fill="#2d3797"/>
<text x="75.25" y="282.9" text-anchor="middle" font-family="Liberation Sans" font-weight="bold" font-size="10.5" fill="#ffffff" stroke="#ffffff" stroke-width="0.2">12</text>
<rect x="89.9" y="271.6" width="26.1" height="14.7" fill="#2d3797"/>
<text x="102.95" y="282.9" text-anchor="middle" font-family="Liberation Sans" font-weight="bold" font-size="10.5" fill="#ffffff" stroke="#ffffff" stroke-width="0.2">12</text>
<rect x="117.6" y="271.6" width="26.1" height="14.7" fill="#2d3797"/>
<text x="130.65" y="282.9" text-anchor="middle" font-family="Liberation Sans" font-weight="bold" font-size="10.5" fill="#ffffff" stroke="#ffffff" stroke-width="0.2">12</text>
<rect x="145.3" y="271.6" width="26.1" height="14.7" fill="#2d3797"/>
<text x="158.35" y="282.9" text-anchor="middle" font-family="Liberation Sans" font-weight="bold" font-size="10.5" fill="#ffffff" stroke="#ffffff" stroke-width="0.2">12</text>
<rect x="173" y="271.6" width="26.1" height="14.7" fill="#2d3797"/>
<text x="186.05" y="282.9" text-anchor="middle" font-family="Liberation Sans" font-weight="bold" font-size="10.5" fill="#ffffff" stroke="#ffffff" stroke-width="0.2">12</text>
<rect x="200.7" y="271.6" width="26.1" height="14.7" fill="#2d3797"/>
<text x="213.75" y="282.9" text-anchor="middle" font-family="Liberation Sans" font-weight="bold" font-size="10.5" fill="#ffffff" stroke="#ffffff" stroke-width="0.2">12</text>
<rect x="228.4" y="271.6" width="26.1" height="14.7" fill="#2d3797"/>
<text x="241.45" y="282.9" text-anchor="middle" font-family="Liberation Sans" font-weight="bold" font-size="10.5" fill="#ffffff" stroke="#ffffff" stroke-width="0.2">12</text>
<rect x="256.1" y="271.6" width="26.1" height="14.7" fill="#808183"/>
<text x="269.15" y="282.9" text-anchor="middle" font-family="Liberation Sans" font-weight="bold" font-size="10.5" fill="#ffffff" stroke="#ffffff" stroke-width="0.2">10</text>
<rect x="283.8" y="271.6" width="26.1" height="14.7" fill="#808183"/>
<text x="296.85" y="282.9" text-anchor="middle" font-family="Liberation Sans" font-weight="bold" font-size="10.5" fill="#ffffff" stroke="#ffffff" stroke-width="0.2">10</text>
<rect x="311.5" y="271.6" width="26.1" height="14.7" fill="#808183"/>
<text x="324.55" y="282.9" text-anchor="middle" font-family="Liberation Sans" font-weight="bold" font-size="10.5" fill="#ffffff" stroke="#ffffff" stroke-width="0.2">10</text>
<rect x="339.2" y="271.6" width="26.1" height="14.7" fill="#808183"/>
<text x="352.25" y="282.9" text-anchor="middle" font-family="Liberation Sans" font-weight="bold" font-size="10.5" fill="#ffffff" stroke="#ffffff" stroke-width="0.2">10</text>
<rect x="366.9" y="271.6" width="26.1" height="14.7" fill="#b6b7b9"/>
<text x="379.95" y="282.9" text-anchor="middle" font-family="Liberation Sans" font-weight="bold" font-size="10.5" fill="#ffffff">8</text>
<rect x="394.6" y="271.6" width="26.1" height="14.7" fill="#b6b7b9"/>
<text x="407.65" y="282.9" text-anchor="middle" font-family="Liberation Sans" font-weight="bold" font-size="10.5" fill="#ffffff">8</text>
<rect x="422.3" y="271.6" width="26.1" height="14.7" fill="#b6b7b9"/>
<text x="435.35" y="282.9" text-anchor="middle" font-family="Liberation Sans" font-weight="bold" font-size="10.5" fill="#ffffff">8</text>
<rect x="450" y="271.6" width="26.1" height="14.7" fill="#b6b7b9"/>
<text x="463.05" y="282.9" text-anchor="middle" font-family="Liberation Sans" font-weight="bold" font-size="10.5" fill="#ffffff">8</text>
<rect x="477.7" y="271.6" width="26.1" height="14.7" fill="#b6b7b9"/>
<text x="490.75" y="282.9" text-anchor="middle" font-family="Liberation Sans" font-weight="bold" font-size="10.5" fill="#ffffff">8</text>
<rect x="505.4" y="271.6" width="26.1" height="14.7" fill="#b6b7b9"/>
<text x="518.45" y="282.9" text-anchor="middle" font-family="Liberation Sans" font-weight="bold" font-size="10.5" fill="#ffffff">8</text>
<rect x="533.1" y="271.6" width="26.1" height="14.7" fill="#b6b7b9"/>
<text x="546.15" y="282.9" text-anchor="middle" font-family="Liberation Sans" font-weight="bold" font-size="10.5" fill="#ffffff">8</text>
<rect x="25" y="287" width="36" height="1" fill="#aeaba9"/>
<text x="30.9" y="299" font-family="Liberation Sans" font-size="10.2" fill="#2f5a6e" stroke="#2f5a6e" stroke-width="0.3">180</text>
<rect x="62.2" y="287.7" width="441.6" height="14.7" fill="#f2f4f6"/>
<rect x="62.2" y="302.4" width="413.9" height="1.4" fill="#f2f4f6"/>
<rect x="62.2" y="287.7" width="26.1" height="14.7" fill="#2d3797"/>
<text x="75.25" y="299" text-anchor="middle" font-family="Liberation Sans" font-weight="bold" font-size="10.5" fill="#ffffff" stroke="#ffffff" stroke-width="0.2">12</text>
<rect x="89.9" y="287.7" width="26.1" height="14.7" fill="#2d3797"/>
<text x="102.95" y="299" text-anchor="middle" font-family="Liberation Sans" font-weight="bold" font-size="10.5" fill="#ffffff" stroke="#ffffff" stroke-width="0.2">12</text>
<rect x="117.6" y="287.7" width="26.1" height="14.7" fill="#2d3797"/>
<text x="130.65" y="299" text-anchor="middle" font-family="Liberation Sans" font-weight="bold" font-size="10.5" fill="#ffffff" stroke="#ffffff" stroke-width="0.2">12</text>
<rect x="145.3" y="287.7" width="26.1" height="14.7" fill="#2d3797"/>
<text x="158.35" y="299" text-anchor="middle" font-family="Liberation Sans" font-weight="bold" font-size="10.5" fill="#ffffff" stroke="#ffffff" stroke-width="0.2">12</text>
<rect x="173" y="287.7" width="26.1" height="14.7" fill="#2d3797"/>
<text x="186.05" y="299" text-anchor="middle" font-family="Liberation Sans" font-weight="bold" font-size="10.5" fill="#ffffff" stroke="#ffffff" stroke-width="0.2">12</text>
<rect x="200.7" y="287.7" width="26.1" height="14.7" fill="#2d3797"/>
<text x="213.75" y="299" text-anchor="middle" font-family="Liberation Sans" font-weight="bold" font-size="10.5" fill="#ffffff" stroke="#ffffff" stroke-width="0.2">12</text>
<rect x="228.4" y="287.7" width="26.1" height="14.7" fill="#808183"/>
<text x="241.45" y="299" text-anchor="middle" font-family="Liberation Sans" font-weight="bold" font-size="10.5" fill="#ffffff" stroke="#ffffff" stroke-width="0.2">10</text>
<rect x="256.1" y="287.7" width="26.1" height="14.7" fill="#808183"/>
<text x="269.15" y="299" text-anchor="middle" font-family="Liberation Sans" font-weight="bold" font-size="10.5" fill="#ffffff" stroke="#ffffff" stroke-width="0.2">10</text>
<rect x="283.8" y="287.7" width="26.1" height="14.7" fill="#808183"/>
<text x="296.85" y="299" text-anchor="middle" font-family="Liberation Sans" font-weight="bold" font-size="10.5" fill="#ffffff" stroke="#ffffff" stroke-width="0.2">10</text>
<rect x="311.5" y="287.7" width="26.1" height="14.7" fill="#808183"/>
<text x="324.55" y="299" text-anchor="middle" font-family="Liberation Sans" font-weight="bold" font-size="10.5" fill="#ffffff" stroke="#ffffff" stroke-width="0.2">10</text>
<rect x="339.2" y="287.7" width="26.1" height="14.7" fill="#b6b7b9"/>
<text x="352.25" y="299" text-anchor="middle" font-family="Liberation Sans" font-weight="bold" font-size="10.5" fill="#ffffff">8</text>
<rect x="366.9" y="287.7" width="26.1" height="14.7" fill="#b6b7b9"/>
<text x="379.95" y="299" text-anchor="middle" font-family="Liberation Sans" font-weight="bold" font-size="10.5" fill="#ffffff">8</text>
<rect x="394.6" y="287.7" width="26.1" height="14.7" fill="#b6b7b9"/>
<text x="407.65" y="299" text-anchor="middle" font-family="Liberation Sans" font-weight="bold" font-size="10.5" fill="#ffffff">8</text>
<rect x="422.3" y="287.7" width="26.1" height="14.7" fill="#b6b7b9"/>
<text x="435.35" y="299" text-anchor="middle" font-family="Liberation Sans" font-weight="bold" font-size="10.5" fill="#ffffff">8</text>
<rect x="450" y="287.7" width="26.1" height="14.7" fill="#b6b7b9"/>
<text x="463.05" y="299" text-anchor="middle" font-family="Liberation Sans" font-weight="bold" font-size="10.5" fill="#ffffff">8</text>
<rect x="477.7" y="287.7" width="26.1" height="14.7" fill="#b6b7b9"/>
<text x="490.75" y="299" text-anchor="middle" font-family="Liberation Sans" font-weight="bold" font-size="10.5" fill="#ffffff">8</text>
<rect x="25" y="303" width="36" height="1" fill="#aeaba9"/>
<text x="30.9" y="315.1" font-family="Liberation Sans" font-size="10.2" fill="#2f5a6e" stroke="#2f5a6e" stroke-width="0.3">200</text>
<rect x="62.2" y="303.8" width="413.9" height="14.7" fill="#f2f4f6"/>
<rect x="62.2" y="318.5" width="358.5" height="1.4" fill="#f2f4f6"/>
<rect x="62.2" y="303.8" width="26.1" height="14.7" fill="#2d3797"/>
<text x="75.25" y="315.1" text-anchor="middle" font-family="Liberation Sans" font-weight="bold" font-size="10.5" fill="#ffffff" stroke="#ffffff" stroke-width="0.2">12</text>
<rect x="89.9" y="303.8" width="26.1" height="14.7" fill="#2d3797"/>
<text x="102.95" y="315.1" text-anchor="middle" font-family="Liberation Sans" font-weight="bold" font-size="10.5" fill="#ffffff" stroke="#ffffff" stroke-width="0.2">12</text>
<rect x="117.6" y="303.8" width="26.1" height="14.7" fill="#2d3797"/>
<text x="130.65" y="315.1" text-anchor="middle" font-family="Liberation Sans" font-weight="bold" font-size="10.5" fill="#ffffff" stroke="#ffffff" stroke-width="0.2">12</text>
<rect x="145.3" y="303.8" width="26.1" height="14.7" fill="#2d3797"/>
<text x="158.35" y="315.1" text-anchor="middle" font-family="Liberation Sans" font-weight="bold" font-size="10.5" fill="#ffffff" stroke="#ffffff" stroke-width="0.2">12</text>
<rect x="173" y="303.8" width="26.1" height="14.7" fill="#2d3797"/>
<text x="186.05" y="315.1" text-anchor="middle" font-family="Liberation Sans" font-weight="bold" font-size="10.5" fill="#ffffff" stroke="#ffffff" stroke-width="0.2">12</text>
<rect x="200.7" y="303.8" width="26.1" height="14.7" fill="#2d3797"/>
<text x="213.75" y="315.1" text-anchor="middle" font-family="Liberation Sans" font-weight="bold" font-size="10.5" fill="#ffffff" stroke="#ffffff" stroke-width="0.2">12</text>
<rect x="228.4" y="303.8" width="26.1" height="14.7" fill="#808183"/>
<text x="241.45" y="315.1" text-anchor="middle" font-family="Liberation Sans" font-weight="bold" font-size="10.5" fill="#ffffff" stroke="#ffffff" stroke-width="0.2">10</text>
<rect x="256.1" y="303.8" width="26.1" height="14.7" fill="#808183"/>
<text x="269.15" y="315.1" text-anchor="middle" font-family="Liberation Sans" font-weight="bold" font-size="10.5" fill="#ffffff" stroke="#ffffff" stroke-width="0.2">10</text>
<rect x="283.8" y="303.8" width="26.1" height="14.7" fill="#808183"/>
<text x="296.85" y="315.1" text-anchor="middle" font-family="Liberation Sans" font-weight="bold" font-size="10.5" fill="#ffffff" stroke="#ffffff" stroke-width="0.2">10</text>
<rect x="311.5" y="303.8" width="26.1" height="14.7" fill="#b6b7b9"/>
<text x="324.55" y="315.1" text-anchor="middle" font-family="Liberation Sans" font-weight="bold" font-size="10.5" fill="#ffffff">8</text>
<rect x="339.2" y="303.8" width="26.1" height="14.7" fill="#b6b7b9"/>
<text x="352.25" y="315.1" text-anchor="middle" font-family="Liberation Sans" font-weight="bold" font-size="10.5" fill="#ffffff">8</text>
<rect x="366.9" y="303.8" width="26.1" height="14.7" fill="#b6b7b9"/>
<text x="379.95" y="315.1" text-anchor="middle" font-family="Liberation Sans" font-weight="bold" font-size="10.5" fill="#ffffff">8</text>
<rect x="394.6" y="303.8" width="26.1" height="14.7" fill="#b6b7b9"/>
<text x="407.65" y="315.1" text-anchor="middle" font-family="Liberation Sans" font-weight="bold" font-size="10.5" fill="#ffffff">8</text>
<rect x="422.3" y="303.8" width="26.1" height="14.7" fill="#b6b7b9"/>
<text x="435.35" y="315.1" text-anchor="middle" font-family="Liberation Sans" font-weight="bold" font-size="10.5" fill="#ffffff">8</text>
<rect x="450" y="303.8" width="26.1" height="14.7" fill="#b6b7b9"/>
<text x="463.05" y="315.1" text-anchor="middle" font-family="Liberation Sans" font-weight="bold" font-size="10.5" fill="#ffffff">8</text>
<rect x="25" y="319" width="36" height="1" fill="#aeaba9"/>
<text x="30.9" y="331.2" font-family="Liberation Sans" font-size="10.2" fill="#2f5a6e" stroke="#2f5a6e" stroke-width="0.3">220</text>
<rect x="62.2" y="319.9" width="358.5" height="14.7" fill="#f2f4f6"/>
<rect x="62.2" y="334.6" width="330.8" height="1.4" fill="#f2f4f6"/>
<rect x="62.2" y="319.9" width="26.1" height="14.7" fill="#2d3797"/>
<text x="75.25" y="331.2" text-anchor="middle" font-family="Liberation Sans" font-weight="bold" font-size="10.5" fill="#ffffff" stroke="#ffffff" stroke-width="0.2">12</text>
<rect x="89.9" y="319.9" width="26.1" height="14.7" fill="#2d3797"/>
<text x="102.95" y="331.2" text-anchor="middle" font-family="Liberation Sans" font-weight="bold" font-size="10.5" fill="#ffffff" stroke="#ffffff" stroke-width="0.2">12</text>
<rect x="117.6" y="319.9" width="26.1" height="14.7" fill="#2d3797"/>
<text x="130.65" y="331.2" text-anchor="middle" font-family="Liberation Sans" font-weight="bold" font-size="10.5" fill="#ffffff" stroke="#ffffff" stroke-width="0.2">12</text>
<rect x="145.3" y="319.9" width="26.1" height="14.7" fill="#2d3797"/>
<text x="158.35" y="331.2" text-anchor="middle" font-family="Liberation Sans" font-weight="bold" font-size="10.5" fill="#ffffff" stroke="#ffffff" stroke-width="0.2">12</text>
<rect x="173" y="319.9" width="26.1" height="14.7" fill="#2d3797"/>
<text x="186.05" y="331.2" text-anchor="middle" font-family="Liberation Sans" font-weight="bold" font-size="10.5" fill="#ffffff" stroke="#ffffff" stroke-width="0.2">12</text>
<rect x="200.7" y="319.9" width="26.1" height="14.7" fill="#808183"/>
<text x="213.75" y="331.2" text-anchor="middle" font-family="Liberation Sans" font-weight="bold" font-size="10.5" fill="#ffffff" stroke="#ffffff" stroke-width="0.2">10</text>
<rect x="228.4" y="319.9" width="26.1" height="14.7" fill="#808183"/>
<text x="241.45" y="331.2" text-anchor="middle" font-family="Liberation Sans" font-weight="bold" font-size="10.5" fill="#ffffff" stroke="#ffffff" stroke-width="0.2">10</text>
<rect x="256.1" y="319.9" width="26.1" height="14.7" fill="#808183"/>
<text x="269.15" y="331.2" text-anchor="middle" font-family="Liberation Sans" font-weight="bold" font-size="10.5" fill="#ffffff" stroke="#ffffff" stroke-width="0.2">10</text>
<rect x="283.8" y="319.9" width="26.1" height="14.7" fill="#b6b7b9"/>
<text x="296.85" y="331.2" text-anchor="middle" font-family="Liberation Sans" font-weight="bold" font-size="10.5" fill="#ffffff">8</text>
<rect x="311.5" y="319.9" width="26.1" height="14.7" fill="#b6b7b9"/>
<text x="324.55" y="331.2" text-anchor="middle" font-family="Liberation Sans" font-weight="bold" font-size="10.5" fill="#ffffff">8</text>
<rect x="339.2" y="319.9" width="26.1" height="14.7" fill="#b6b7b9"/>
<text x="352.25" y="331.2" text-anchor="middle" font-family="Liberation Sans" font-weight="bold" font-size="10.5" fill="#ffffff">8</text>
<rect x="366.9" y="319.9" width="26.1" height="14.7" fill="#b6b7b9"/>
<text x="379.95" y="331.2" text-anchor="middle" font-family="Liberation Sans" font-weight="bold" font-size="10.5" fill="#ffffff">8</text>
<rect x="394.6" y="319.9" width="26.1" height="14.7" fill="#b6b7b9"/>
<text x="407.65" y="331.2" text-anchor="middle" font-family="Liberation Sans" font-weight="bold" font-size="10.5" fill="#ffffff">8</text>
<rect x="25" y="335" width="36" height="1" fill="#aeaba9"/>
<text x="30.9" y="347.3" font-family="Liberation Sans" font-size="10.2" fill="#2f5a6e" stroke="#2f5a6e" stroke-width="0.3">240</text>
<rect x="62.2" y="336" width="330.8" height="14.7" fill="#f2f4f6"/>
<rect x="62.2" y="350.7" width="303.1" height="1.4" fill="#f2f4f6"/>
<rect x="62.2" y="336" width="26.1" height="14.7" fill="#2d3797"/>
<text x="75.25" y="347.3" text-anchor="middle" font-family="Liberation Sans" font-weight="bold" font-size="10.5" fill="#ffffff" stroke="#ffffff" stroke-width="0.2">12</text>
<rect x="89.9" y="336" width="26.1" height="14.7" fill="#2d3797"/>
<text x="102.95" y="347.3" text-anchor="middle" font-family="Liberation Sans" font-weight="bold" font-size="10.5" fill="#ffffff" stroke="#ffffff" stroke-width="0.2">12</text>
<rect x="117.6" y="336" width="26.1" height="14.7" fill="#2d3797"/>
<text x="130.65" y="347.3" text-anchor="middle" font-family="Liberation Sans" font-weight="bold" font-size="10.5" fill="#ffffff" stroke="#ffffff" stroke-width="0.2">12</text>
<rect x="145.3" y="336" width="26.1" height="14.7" fill="#2d3797"/>
<text x="158.35" y="347.3" text-anchor="middle" font-family="Liberation Sans" font-weight="bold" font-size="10.5" fill="#ffffff" stroke="#ffffff" stroke-width="0.2">12</text>
<rect x="173" y="336" width="26.1" height="14.7" fill="#808183"/>
<text x="186.05" y="347.3" text-anchor="middle" font-family="Liberation Sans" font-weight="bold" font-size="10.5" fill="#ffffff" stroke="#ffffff" stroke-width="0.2">10</text>
<rect x="200.7" y="336" width="26.1" height="14.7" fill="#808183"/>
<text x="213.75" y="347.3" text-anchor="middle" font-family="Liberation Sans" font-weight="bold" font-size="10.5" fill="#ffffff" stroke="#ffffff" stroke-width="0.2">10</text>
<rect x="228.4" y="336" width="26.1" height="14.7" fill="#808183"/>
<text x="241.45" y="347.3" text-anchor="middle" font-family="Liberation Sans" font-weight="bold" font-size="10.5" fill="#ffffff" stroke="#ffffff" stroke-width="0.2">10</text>
<rect x="256.1" y="336" width="26.1" height="14.7" fill="#b6b7b9"/>
<text x="269.15" y="347.3" text-anchor="middle" font-family="Liberation Sans" font-weight="bold" font-size="10.5" fill="#ffffff">8</text>
<rect x="283.8" y="336" width="26.1" height="14.7" fill="#b6b7b9"/>
<text x="296.85" y="347.3" text-anchor="middle" font-family="Liberation Sans" font-weight="bold" font-size="10.5" fill="#ffffff">8</text>
<rect x="311.5" y="336" width="26.1" height="14.7" fill="#b6b7b9"/>
<text x="324.55" y="347.3" text-anchor="middle" font-family="Liberation Sans" font-weight="bold" font-size="10.5" fill="#ffffff">8</text>
<rect x="339.2" y="336" width="26.1" height="14.7" fill="#b6b7b9"/>
<text x="352.25" y="347.3" text-anchor="middle" font-family="Liberation Sans" font-weight="bold" font-size="10.5" fill="#ffffff">8</text>
<rect x="366.9" y="336" width="26.1" height="14.7" fill="#b6b7b9"/>
<text x="379.95" y="347.3" text-anchor="middle" font-family="Liberation Sans" font-weight="bold" font-size="10.5" fill="#ffffff">8</text>
<rect x="25" y="351" width="36" height="1" fill="#aeaba9"/>
<text x="30.9" y="363.4" font-family="Liberation Sans" font-size="10.2" fill="#2f5a6e" stroke="#2f5a6e" stroke-width="0.3">260</text>
<rect x="62.2" y="352.1" width="303.1" height="14.7" fill="#f2f4f6"/>
<rect x="62.2" y="366.8" width="275.4" height="1.4" fill="#f2f4f6"/>
<rect x="62.2" y="352.1" width="26.1" height="14.7" fill="#2d3797"/>
<text x="75.25" y="363.4" text-anchor="middle" font-family="Liberation Sans" font-weight="bold" font-size="10.5" fill="#ffffff" stroke="#ffffff" stroke-width="0.2">12</text>
<rect x="89.9" y="352.1" width="26.1" height="14.7" fill="#2d3797"/>
<text x="102.95" y="363.4" text-anchor="middle" font-family="Liberation Sans" font-weight="bold" font-size="10.5" fill="#ffffff" stroke="#ffffff" stroke-width="0.2">12</text>
<rect x="117.6" y="352.1" width="26.1" height="14.7" fill="#2d3797"/>
<text x="130.65" y="363.4" text-anchor="middle" font-family="Liberation Sans" font-weight="bold" font-size="10.5" fill="#ffffff" stroke="#ffffff" stroke-width="0.2">12</text>
<rect x="145.3" y="352.1" width="26.1" height="14.7" fill="#2d3797"/>
<text x="158.35" y="363.4" text-anchor="middle" font-family="Liberation Sans" font-weight="bold" font-size="10.5" fill="#ffffff" stroke="#ffffff" stroke-width="0.2">12</text>
<rect x="173" y="352.1" width="26.1" height="14.7" fill="#808183"/>
<text x="186.05" y="363.4" text-anchor="middle" font-family="Liberation Sans" font-weight="bold" font-size="10.5" fill="#ffffff" stroke="#ffffff" stroke-width="0.2">10</text>
<rect x="200.7" y="352.1" width="26.1" height="14.7" fill="#808183"/>
<text x="213.75" y="363.4" text-anchor="middle" font-family="Liberation Sans" font-weight="bold" font-size="10.5" fill="#ffffff" stroke="#ffffff" stroke-width="0.2">10</text>
<rect x="228.4" y="352.1" width="26.1" height="14.7" fill="#808183"/>
<text x="241.45" y="363.4" text-anchor="middle" font-family="Liberation Sans" font-weight="bold" font-size="10.5" fill="#ffffff" stroke="#ffffff" stroke-width="0.2">10</text>
<rect x="256.1" y="352.1" width="26.1" height="14.7" fill="#b6b7b9"/>
<text x="269.15" y="363.4" text-anchor="middle" font-family="Liberation Sans" font-weight="bold" font-size="10.5" fill="#ffffff">8</text>
<rect x="283.8" y="352.1" width="26.1" height="14.7" fill="#b6b7b9"/>
<text x="296.85" y="363.4" text-anchor="middle" font-family="Liberation Sans" font-weight="bold" font-size="10.5" fill="#ffffff">8</text>
<rect x="311.5" y="352.1" width="26.1" height="14.7" fill="#b6b7b9"/>
<text x="324.55" y="363.4" text-anchor="middle" font-family="Liberation Sans" font-weight="bold" font-size="10.5" fill="#ffffff">8</text>
<rect x="339.2" y="352.1" width="26.1" height="14.7" fill="#b6b7b9"/>
<text x="352.25" y="363.4" text-anchor="middle" font-family="Liberation Sans" font-weight="bold" font-size="10.5" fill="#ffffff">8</text>
<rect x="25" y="367" width="36" height="1" fill="#aeaba9"/>
<text x="30.9" y="379.5" font-family="Liberation Sans" font-size="10.2" fill="#2f5a6e" stroke="#2f5a6e" stroke-width="0.3">280</text>
<rect x="62.2" y="368.2" width="275.4" height="14.7" fill="#f2f4f6"/>
<rect x="62.2" y="382.9" width="275.4" height="1.4" fill="#f2f4f6"/>
<rect x="62.2" y="368.2" width="26.1" height="14.7" fill="#2d3797"/>
<text x="75.25" y="379.5" text-anchor="middle" font-family="Liberation Sans" font-weight="bold" font-size="10.5" fill="#ffffff" stroke="#ffffff" stroke-width="0.2">12</text>
<rect x="89.9" y="368.2" width="26.1" height="14.7" fill="#2d3797"/>
<text x="102.95" y="379.5" text-anchor="middle" font-family="Liberation Sans" font-weight="bold" font-size="10.5" fill="#ffffff" stroke="#ffffff" stroke-width="0.2">12</text>
<rect x="117.6" y="368.2" width="26.1" height="14.7" fill="#2d3797"/>
<text x="130.65" y="379.5" text-anchor="middle" font-family="Liberation Sans" font-weight="bold" font-size="10.5" fill="#ffffff" stroke="#ffffff" stroke-width="0.2">12</text>
<rect x="145.3" y="368.2" width="26.1" height="14.7" fill="#808183"/>
<text x="158.35" y="379.5" text-anchor="middle" font-family="Liberation Sans" font-weight="bold" font-size="10.5" fill="#ffffff" stroke="#ffffff" stroke-width="0.2">10</text>
<rect x="173" y="368.2" width="26.1" height="14.7" fill="#808183"/>
<text x="186.05" y="379.5" text-anchor="middle" font-family="Liberation Sans" font-weight="bold" font-size="10.5" fill="#ffffff" stroke="#ffffff" stroke-width="0.2">10</text>
<rect x="200.7" y="368.2" width="26.1" height="14.7" fill="#808183"/>
<text x="213.75" y="379.5" text-anchor="middle" font-family="Liberation Sans" font-weight="bold" font-size="10.5" fill="#ffffff" stroke="#ffffff" stroke-width="0.2">10</text>
<rect x="228.4" y="368.2" width="26.1" height="14.7" fill="#b6b7b9"/>
<text x="241.45" y="379.5" text-anchor="middle" font-family="Liberation Sans" font-weight="bold" font-size="10.5" fill="#ffffff">8</text>
<rect x="256.1" y="368.2" width="26.1" height="14.7" fill="#b6b7b9"/>
<text x="269.15" y="379.5" text-anchor="middle" font-family="Liberation Sans" font-weight="bold" font-size="10.5" fill="#ffffff">8</text>
<rect x="283.8" y="368.2" width="26.1" height="14.7" fill="#b6b7b9"/>
<text x="296.85" y="379.5" text-anchor="middle" font-family="Liberation Sans" font-weight="bold" font-size="10.5" fill="#ffffff">8</text>
<rect x="311.5" y="368.2" width="26.1" height="14.7" fill="#b6b7b9"/>
<text x="324.55" y="379.5" text-anchor="middle" font-family="Liberation Sans" font-weight="bold" font-size="10.5" fill="#ffffff">8</text>
<rect x="25" y="383" width="36" height="1" fill="#aeaba9"/>
<text x="30.9" y="395.6" font-family="Liberation Sans" font-size="10.2" fill="#2f5a6e" stroke="#2f5a6e" stroke-width="0.3">300</text>
<rect x="62.2" y="384.3" width="275.4" height="14.7" fill="#f2f4f6"/>
<rect x="62.2" y="399" width="247.7" height="1.4" fill="#f2f4f6"/>
<rect x="62.2" y="384.3" width="26.1" height="14.7" fill="#2d3797"/>
<text x="75.25" y="395.6" text-anchor="middle" font-family="Liberation Sans" font-weight="bold" font-size="10.5" fill="#ffffff" stroke="#ffffff" stroke-width="0.2">12</text>
<rect x="89.9" y="384.3" width="26.1" height="14.7" fill="#2d3797"/>
<text x="102.95" y="395.6" text-anchor="middle" font-family="Liberation Sans" font-weight="bold" font-size="10.5" fill="#ffffff" stroke="#ffffff" stroke-width="0.2">12</text>
<rect x="117.6" y="384.3" width="26.1" height="14.7" fill="#2d3797"/>
<text x="130.65" y="395.6" text-anchor="middle" font-family="Liberation Sans" font-weight="bold" font-size="10.5" fill="#ffffff" stroke="#ffffff" stroke-width="0.2">12</text>
<rect x="145.3" y="384.3" width="26.1" height="14.7" fill="#808183"/>
<text x="158.35" y="395.6" text-anchor="middle" font-family="Liberation Sans" font-weight="bold" font-size="10.5" fill="#ffffff" stroke="#ffffff" stroke-width="0.2">10</text>
<rect x="173" y="384.3" width="26.1" height="14.7" fill="#808183"/>
<text x="186.05" y="395.6" text-anchor="middle" font-family="Liberation Sans" font-weight="bold" font-size="10.5" fill="#ffffff" stroke="#ffffff" stroke-width="0.2">10</text>
<rect x="200.7" y="384.3" width="26.1" height="14.7" fill="#808183"/>
<text x="213.75" y="395.6" text-anchor="middle" font-family="Liberation Sans" font-weight="bold" font-size="10.5" fill="#ffffff" stroke="#ffffff" stroke-width="0.2">10</text>
<rect x="228.4" y="384.3" width="26.1" height="14.7" fill="#b6b7b9"/>
<text x="241.45" y="395.6" text-anchor="middle" font-family="Liberation Sans" font-weight="bold" font-size="10.5" fill="#ffffff">8</text>
<rect x="256.1" y="384.3" width="26.1" height="14.7" fill="#b6b7b9"/>
<text x="269.15" y="395.6" text-anchor="middle" font-family="Liberation Sans" font-weight="bold" font-size="10.5" fill="#ffffff">8</text>
<rect x="283.8" y="384.3" width="26.1" height="14.7" fill="#b6b7b9"/>
<text x="296.85" y="395.6" text-anchor="middle" font-family="Liberation Sans" font-weight="bold" font-size="10.5" fill="#ffffff">8</text>
<rect x="311.5" y="384.3" width="26.1" height="14.7" fill="#b6b7b9"/>
<text x="324.55" y="395.6" text-anchor="middle" font-family="Liberation Sans" font-weight="bold" font-size="10.5" fill="#ffffff">8</text>
<rect x="25" y="399" width="36" height="1" fill="#aeaba9"/>
<text x="30.9" y="411.7" font-family="Liberation Sans" font-size="10.2" fill="#2f5a6e" stroke="#2f5a6e" stroke-width="0.3">320</text>
<rect x="62.2" y="400.4" width="247.7" height="14.7" fill="#f2f4f6"/>
<rect x="62.2" y="415.1" width="247.7" height="1.4" fill="#f2f4f6"/>
<rect x="62.2" y="400.4" width="26.1" height="14.7" fill="#2d3797"/>
<text x="75.25" y="411.7" text-anchor="middle" font-family="Liberation Sans" font-weight="bold" font-size="10.5" fill="#ffffff" stroke="#ffffff" stroke-width="0.2">12</text>
<rect x="89.9" y="400.4" width="26.1" height="14.7" fill="#2d3797"/>
<text x="102.95" y="411.7" text-anchor="middle" font-family="Liberation Sans" font-weight="bold" font-size="10.5" fill="#ffffff" stroke="#ffffff" stroke-width="0.2">12</text>
<rect x="117.6" y="400.4" width="26.1" height="14.7" fill="#808183"/>
<text x="130.65" y="411.7" text-anchor="middle" font-family="Liberation Sans" font-weight="bold" font-size="10.5" fill="#ffffff" stroke="#ffffff" stroke-width="0.2">10</text>
<rect x="145.3" y="400.4" width="26.1" height="14.7" fill="#808183"/>
<text x="158.35" y="411.7" text-anchor="middle" font-family="Liberation Sans" font-weight="bold" font-size="10.5" fill="#ffffff" stroke="#ffffff" stroke-width="0.2">10</text>
<rect x="173" y="400.4" width="26.1" height="14.7" fill="#808183"/>
<text x="186.05" y="411.7" text-anchor="middle" font-family="Liberation Sans" font-weight="bold" font-size="10.5" fill="#ffffff" stroke="#ffffff" stroke-width="0.2">10</text>
<rect x="200.7" y="400.4" width="26.1" height="14.7" fill="#b6b7b9"/>
<text x="213.75" y="411.7" text-anchor="middle" font-family="Liberation Sans" font-weight="bold" font-size="10.5" fill="#ffffff">8</text>
<rect x="228.4" y="400.4" width="26.1" height="14.7" fill="#b6b7b9"/>
<text x="241.45" y="411.7" text-anchor="middle" font-family="Liberation Sans" font-weight="bold" font-size="10.5" fill="#ffffff">8</text>
<rect x="256.1" y="400.4" width="26.1" height="14.7" fill="#b6b7b9"/>
<text x="269.15" y="411.7" text-anchor="middle" font-family="Liberation Sans" font-weight="bold" font-size="10.5" fill="#ffffff">8</text>
<rect x="283.8" y="400.4" width="26.1" height="14.7" fill="#b6b7b9"/>
<text x="296.85" y="411.7" text-anchor="middle" font-family="Liberation Sans" font-weight="bold" font-size="10.5" fill="#ffffff">8</text>
<rect x="25" y="416" width="36" height="1" fill="#aeaba9"/>
<text x="30.9" y="427.8" font-family="Liberation Sans" font-size="10.2" fill="#2f5a6e" stroke="#2f5a6e" stroke-width="0.3">340</text>
<rect x="62.2" y="416.5" width="247.7" height="14.7" fill="#f2f4f6"/>
<rect x="62.2" y="431.2" width="220" height="1.4" fill="#f2f4f6"/>
<rect x="62.2" y="416.5" width="26.1" height="14.7" fill="#2d3797"/>
<text x="75.25" y="427.8" text-anchor="middle" font-family="Liberation Sans" font-weight="bold" font-size="10.5" fill="#ffffff" stroke="#ffffff" stroke-width="0.2">12</text>
<rect x="89.9" y="416.5" width="26.1" height="14.7" fill="#2d3797"/>
<text x="102.95" y="427.8" text-anchor="middle" font-family="Liberation Sans" font-weight="bold" font-size="10.5" fill="#ffffff" stroke="#ffffff" stroke-width="0.2">12</text>
<rect x="117.6" y="416.5" width="26.1" height="14.7" fill="#808183"/>
<text x="130.65" y="427.8" text-anchor="middle" font-family="Liberation Sans" font-weight="bold" font-size="10.5" fill="#ffffff" stroke="#ffffff" stroke-width="0.2">10</text>
<rect x="145.3" y="416.5" width="26.1" height="14.7" fill="#808183"/>
<text x="158.35" y="427.8" text-anchor="middle" font-family="Liberation Sans" font-weight="bold" font-size="10.5" fill="#ffffff" stroke="#ffffff" stroke-width="0.2">10</text>
<rect x="173" y="416.5" width="26.1" height="14.7" fill="#808183"/>
<text x="186.05" y="427.8" text-anchor="middle" font-family="Liberation Sans" font-weight="bold" font-size="10.5" fill="#ffffff" stroke="#ffffff" stroke-width="0.2">10</text>
<rect x="200.7" y="416.5" width="26.1" height="14.7" fill="#b6b7b9"/>
<text x="213.75" y="427.8" text-anchor="middle" font-family="Liberation Sans" font-weight="bold" font-size="10.5" fill="#ffffff">8</text>
<rect x="228.4" y="416.5" width="26.1" height="14.7" fill="#b6b7b9"/>
<text x="241.45" y="427.8" text-anchor="middle" font-family="Liberation Sans" font-weight="bold" font-size="10.5" fill="#ffffff">8</text>
<rect x="256.1" y="416.5" width="26.1" height="14.7" fill="#b6b7b9"/>
<text x="269.15" y="427.8" text-anchor="middle" font-family="Liberation Sans" font-weight="bold" font-size="10.5" fill="#ffffff">8</text>
<rect x="283.8" y="416.5" width="26.1" height="14.7" fill="#b6b7b9"/>
<text x="296.85" y="427.8" text-anchor="middle" font-family="Liberation Sans" font-weight="bold" font-size="10.5" fill="#ffffff">8</text>
<rect x="25" y="432" width="36" height="1" fill="#aeaba9"/>
<text x="30.9" y="443.9" font-family="Liberation Sans" font-size="10.2" fill="#2f5a6e" stroke="#2f5a6e" stroke-width="0.3">360</text>
<rect x="62.2" y="432.6" width="220" height="14.7" fill="#f2f4f6"/>
<rect x="62.2" y="432.6" width="26.1" height="14.7" fill="#2d3797"/>
<text x="75.25" y="443.9" text-anchor="middle" font-family="Liberation Sans" font-weight="bold" font-size="10.5" fill="#ffffff" stroke="#ffffff" stroke-width="0.2">12</text>
<rect x="89.9" y="432.6" width="26.1" height="14.7" fill="#808183"/>
<text x="102.95" y="443.9" text-anchor="middle" font-family="Liberation Sans" font-weight="bold" font-size="10.5" fill="#ffffff" stroke="#ffffff" stroke-width="0.2">10</text>
<rect x="117.6" y="432.6" width="26.1" height="14.7" fill="#808183"/>
<text x="130.65" y="443.9" text-anchor="middle" font-family="Liberation Sans" font-weight="bold" font-size="10.5" fill="#ffffff" stroke="#ffffff" stroke-width="0.2">10</text>
<rect x="145.3" y="432.6" width="26.1" height="14.7" fill="#808183"/>
<text x="158.35" y="443.9" text-anchor="middle" font-family="Liberation Sans" font-weight="bold" font-size="10.5" fill="#ffffff" stroke="#ffffff" stroke-width="0.2">10</text>
<rect x="173" y="432.6" width="26.1" height="14.7" fill="#b6b7b9"/>
<text x="186.05" y="443.9" text-anchor="middle" font-family="Liberation Sans" font-weight="bold" font-size="10.5" fill="#ffffff">8</text>
<rect x="200.7" y="432.6" width="26.1" height="14.7" fill="#b6b7b9"/>
<text x="213.75" y="443.9" text-anchor="middle" font-family="Liberation Sans" font-weight="bold" font-size="10.5" fill="#ffffff">8</text>
<rect x="228.4" y="432.6" width="26.1" height="14.7" fill="#b6b7b9"/>
<text x="241.45" y="443.9" text-anchor="middle" font-family="Liberation Sans" font-weight="bold" font-size="10.5" fill="#ffffff">8</text>
<rect x="256.1" y="432.6" width="26.1" height="14.7" fill="#b6b7b9"/>
<text x="269.15" y="443.9" text-anchor="middle" font-family="Liberation Sans" font-weight="bold" font-size="10.5" fill="#ffffff">8</text>
<rect x="18.8" y="483.8" width="602.4" height="48.2" rx="6" fill="#fbfbfb"/>
<rect x="19.8" y="484.8" width="600.6" height="46" rx="5" fill="#403f41"/>
<text x="31.80000000000001" y="513.8" font-family="Liberation Sans" font-weight="bold" font-size="22" fill="#ffffff" textLength="576.0" lengthAdjust="spacingAndGlyphs">Choosing the Right AWG for Your Landscape Lighting Wire</text>
<rect x="33" y="550" width="11.6" height="11.4" rx="3.6" fill="#f6f6f7"/>
<rect x="34" y="551" width="9.6" height="9.4" rx="2.8" fill="#3a393b"/>
<text x="54.6" y="562.6" font-family="Liberation Sans" font-size="17.5" fill="#262425" textLength="550" lengthAdjust="spacingAndGlyphs">The lower the wire gauge number (AWG), the thicker the wire. Thicker</text>
<text x="54.6" y="585.6" font-family="Liberation Sans" font-size="17.5" fill="#262425" textLength="517" lengthAdjust="spacingAndGlyphs">wires can carry more electricity and are better suited for covering</text>
<text x="54.6" y="608.6" font-family="Liberation Sans" font-size="17.5" fill="#262425" textLength="135.5" lengthAdjust="spacingAndGlyphs">longer distances.</text>
<rect x="33" y="635.1" width="11.6" height="11.4" rx="3.6" fill="#f6f6f7"/>
<rect x="34" y="636.1" width="9.6" height="9.4" rx="2.8" fill="#3a393b"/>
<text x="54.6" y="647.7" font-family="Liberation Sans" font-size="17.5" fill="#262425" textLength="522" lengthAdjust="spacingAndGlyphs">To prevent loss of power (voltage drop), it is recommended to use</text>
<text x="54.6" y="670.6" font-family="Liberation Sans" font-size="17.5" fill="#262425" textLength="293" lengthAdjust="spacingAndGlyphs">only up to 80% of the wire’s capacity.</text>
<rect x="33" y="701.6" width="11.6" height="11.4" rx="3.6" fill="#f6f6f7"/>
<rect x="34" y="702.6" width="9.6" height="9.4" rx="2.8" fill="#3a393b"/>
<text x="54.6" y="714.2" font-family="Liberation Sans" font-size="17.5" fill="#262425" textLength="516" lengthAdjust="spacingAndGlyphs">The above guidelines are provided for reference purposes. Actual</text>
<text x="54.6" y="736.9" font-family="Liberation Sans" font-size="17.5" fill="#262425" textLength="523.5" lengthAdjust="spacingAndGlyphs">conditions may vary, and adjustments may be necessary based on</text>
<text x="54.6" y="759.5" font-family="Liberation Sans" font-size="17.5" fill="#262425" textLength="217" lengthAdjust="spacingAndGlyphs">your specific project needs.</text>
</svg>
</body></html>
